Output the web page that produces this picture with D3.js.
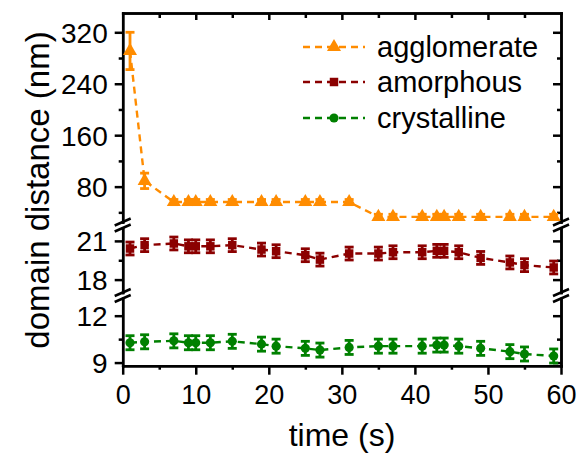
<!DOCTYPE html>
<html><head><meta charset="utf-8">
<script src="https://cdn.jsdelivr.net/npm/d3@7"></script>
<style>body{margin:0;background:#fff}svg{display:block}text{font-family:Arial,"Liberation Sans",sans-serif;fill:#000}</style>
</head><body><svg id="c" width="584" height="459"></svg>
<script>
const times = [1,3,7,9,10,12,15,19,21,25,27,31,35,37,41,43,44,46,49,53,55,59];
const agglomerate = [291,89,56,56,56,56,56,56,56,56,56,56,33,33,33,33,33,33,33,33,33,33];
const agglomerateErr = [29,12,4,4,4,4,4,4,4,4,4,4,4,4,4,4,4,4,4,4,4,4];
const amorphous = [20.41,20.67,20.80,20.58,20.58,20.58,20.67,20.33,20.20,19.89,19.55,20.02,20.02,20.12,20.12,20.23,20.23,20.12,19.68,19.33,19.12,18.94];
const amorphousErr = [0.5,0.5,0.5,0.5,0.5,0.5,0.5,0.5,0.5,0.5,0.5,0.5,0.5,0.5,0.5,0.5,0.5,0.5,0.5,0.5,0.5,0.5];
const crystalline = [10.27,10.33,10.39,10.27,10.27,10.27,10.36,10.18,10.05,9.91,9.80,9.97,10.05,10.05,10.05,10.12,10.12,10.05,9.91,9.70,9.55,9.42];
const crystallineErr = [0.45,0.45,0.45,0.45,0.45,0.45,0.45,0.45,0.45,0.45,0.45,0.45,0.45,0.45,0.45,0.45,0.45,0.45,0.45,0.45,0.45,0.45];
const seriesNames = ["agglomerate","amorphous","crystalline"];
const seriesColors = ["#FF8C00","#8B0000","#008000"];
const xTicks = [0,10,20,30,40,50,60];
const xMinor = [5,15,25,35,45,55];
const topTicks = [80,160,240,320], topMinor = [40,120,200,280];
const midTicks = [18,21], midMinor = [19.5];
const botTicks = [9,12], botMinor = [10.5];

const svg = d3.select("#c");
const L = 122.7, R = 561, T = 13, B = 365.7;
const x = d3.scaleLinear().domain([0,60]).range([L,R]);
const yTop = d3.scaleLinear().domain([25,350]).range([222,T]);
const yMid = d3.scaleLinear().domain([17,22]).range([292.5,228]);
const yBot = d3.scaleLinear().domain([8.8,13.1]).range([B,298.5]);
const panels = [
  {y:yTop, major:topTicks, minor:topMinor},
  {y:yMid, major:midTicks, minor:midMinor},
  {y:yBot, major:botTicks, minor:botMinor}
];
const AX = 2.5;
function styleAxis(g){ g.selectAll("path").attr("stroke","#000").attr("stroke-width",AX);
  g.selectAll("line").attr("stroke","#000").attr("stroke-width",AX); }

panels.forEach(p=>{
  const gl = svg.append("g").attr("transform",`translate(${L},0)`);
  gl.call(d3.axisLeft(p.y).tickValues(p.major).tickSize(8).tickSizeOuter(0).tickFormat(d3.format("d")));
  gl.selectAll("text").attr("font-size",28).attr("x",-15).attr("dy","0.36em");
  gl.append("g").call(d3.axisLeft(p.y).tickValues(p.minor).tickSize(4).tickSizeOuter(0).tickFormat(""));
  styleAxis(gl);
  const gr = svg.append("g").attr("transform",`translate(${R},0)`);
  gr.call(d3.axisRight(p.y).tickValues(p.major).tickSize(-8).tickSizeOuter(0).tickFormat(""));
  gr.append("g").call(d3.axisRight(p.y).tickValues(p.minor).tickSize(-4).tickSizeOuter(0).tickFormat(""));
  styleAxis(gr);
});
const gb = svg.append("g").attr("transform",`translate(0,${B})`);
gb.call(d3.axisBottom(x).tickValues(xTicks).tickSize(9).tickSizeOuter(0).tickFormat(d3.format("d")));
gb.selectAll("text").attr("font-size",27).attr("dy","0").attr("y",38.5);
gb.append("g").call(d3.axisBottom(x).tickValues(xMinor).tickSize(4).tickSizeOuter(0).tickFormat(""));
styleAxis(gb);
const gt = svg.append("g").attr("transform",`translate(0,${T})`);
gt.call(d3.axisTop(x).tickValues(xTicks.slice(1,-1)).tickSize(-7).tickSizeOuter(0).tickFormat(""));
gt.append("g").call(d3.axisTop(x).tickValues(xMinor).tickSize(-5).tickSizeOuter(0).tickFormat(""));
styleAxis(gt);
svg.selectAll(".domain").attr("stroke-linecap","square");

const breaks = [[yTop.range()[0], yMid.range()[1]], [yMid.range()[0], yBot.range()[1]]];
breaks.forEach(([a,b])=>{
  [L,R].forEach(xx=>{
    [a,b].forEach(yy=>{
      svg.append("line").attr("x1",xx-8).attr("y1",yy+3.5).attr("x2",xx+8).attr("y2",yy-3.5)
        .attr("stroke","#000").attr("stroke-width",2.5);
    });
  });
});

const symbols = [d3.symbolTriangle, d3.symbolSquare, d3.symbolCircle];
const symSizes = [85, 72, 66];
const data = [
  {vals:agglomerate, err:agglomerateErr, y:yTop},
  {vals:amorphous, err:amorphousErr, y:yMid},
  {vals:crystalline, err:crystallineErr, y:yBot}
];
data.forEach((s,i)=>{
  const c = seriesColors[i];
  const pts = times.map((t,j)=>({t, v:s.vals[j], e:s.err[j]}));
  const g = svg.append("g");
  g.append("path").datum(pts).attr("fill","none").attr("stroke",c).attr("stroke-width",2.4)
    .attr("stroke-dasharray","7,5")
    .attr("d", d3.line().x(d=>x(d.t)).y(d=>s.y(d.v)));
  const eb = g.selectAll(".eb").data(pts).enter().append("g");
  eb.append("line").attr("x1",d=>x(d.t)).attr("x2",d=>x(d.t))
    .attr("y1",d=>s.y(d.v-d.e)).attr("y2",d=>s.y(d.v+d.e)).attr("stroke",c).attr("stroke-width",2.8);
  [-1,1].forEach(sg=>{
    eb.append("line").attr("x1",d=>x(d.t)-4.5).attr("x2",d=>x(d.t)+4.5)
      .attr("y1",d=>s.y(d.v+sg*d.e)).attr("y2",d=>s.y(d.v+sg*d.e)).attr("stroke",c).attr("stroke-width",2.8);
  });
  g.selectAll(".m").data(pts).enter().append("path")
    .attr("transform",d=>`translate(${x(d.t)},${s.y(d.v)})`)
    .attr("d", d3.symbol().type(symbols[i]).size(symSizes[i])).attr("fill",c);
});

const legY = [47, 82, 118];
seriesNames.forEach((n,i)=>{
  const c = seriesColors[i];
  svg.append("line").attr("x1",303).attr("x2",365).attr("y1",legY[i]).attr("y2",legY[i])
    .attr("stroke",c).attr("stroke-width",2.4).attr("stroke-dasharray","7,5");
  svg.append("path").attr("transform",`translate(334,${legY[i]})`)
    .attr("d", d3.symbol().type(symbols[i]).size(symSizes[i])).attr("fill",c);
  svg.append("text").attr("x",377).attr("y",legY[i]+10).attr("font-size",29).text(n);
});

svg.append("text").attr("x",342).attr("y",446).attr("text-anchor","middle").attr("font-size",32).text("time (s)");
svg.append("text").attr("transform","translate(49,190) rotate(-90)").attr("text-anchor","middle").attr("font-size",33).text("domain distance (nm)");
</script></body></html>
